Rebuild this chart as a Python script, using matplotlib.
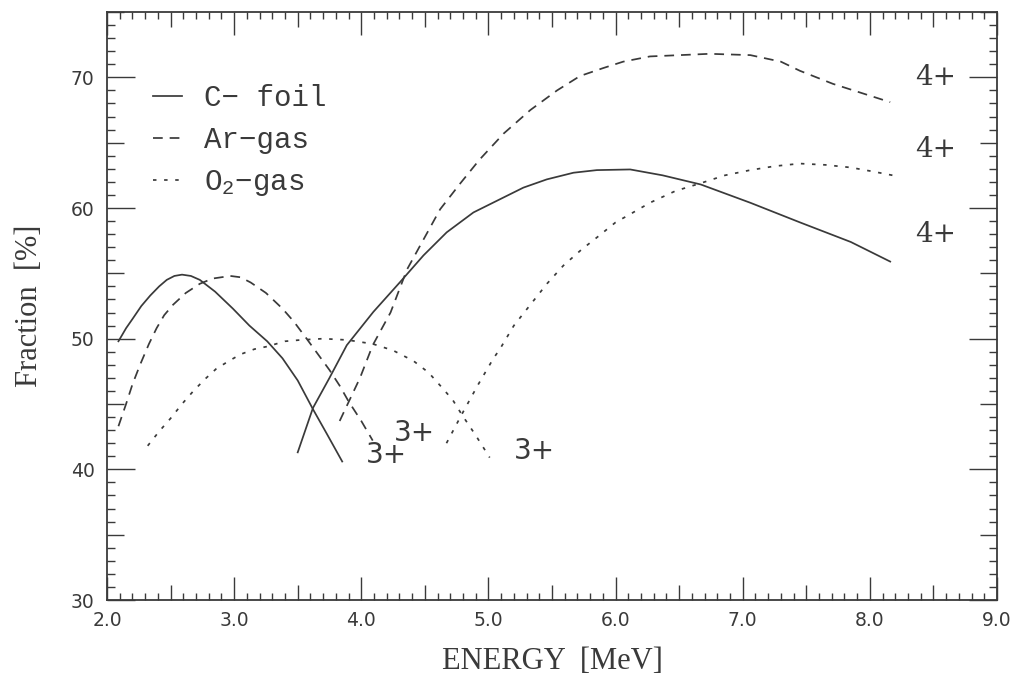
import matplotlib
matplotlib.use("Agg")
import matplotlib.pyplot as plt
from matplotlib.ticker import MultipleLocator

# ---------------- data ----------------
c_foil_3_x = [2.09, 2.15, 2.20, 2.27, 2.34, 2.41, 2.47, 2.53, 2.59, 2.66, 2.73, 2.85,
              2.99, 3.12, 3.26, 3.38, 3.50, 3.62, 3.73, 3.85]
c_foil_3_y = [49.8, 50.8, 51.5, 52.5, 53.3, 54.0, 54.5, 54.8, 54.9, 54.8, 54.5, 53.6,
              52.3, 51.0, 49.8, 48.5, 46.8, 44.6, 42.7, 40.6]

c_foil_4_x = [3.50, 3.62, 3.75, 3.886, 4.095, 4.305, 4.489, 4.672, 4.882, 5.066, 5.275,
              5.459, 5.669, 5.853, 6.115, 6.37, 6.67, 7.06, 7.45, 7.85, 8.16]
c_foil_4_y = [41.3, 44.7, 47.0, 49.5, 52.05, 54.33, 56.37, 58.14, 59.66, 60.55, 61.56,
              62.19, 62.70, 62.90, 62.95, 62.5, 61.8, 60.4, 58.9, 57.4, 55.9]

ar_gas_3_x = [2.09, 2.15, 2.20, 2.26, 2.33, 2.39, 2.45, 2.52, 2.62, 2.73, 2.83, 2.97,
              3.05, 3.13, 3.25, 3.38, 3.47, 3.57, 3.66, 3.75, 3.83, 3.90, 4.00, 4.09]
ar_gas_3_y = [43.3, 45.0, 46.5, 48.0, 49.6, 50.8, 51.8, 52.6, 53.5, 54.2, 54.6, 54.8,
              54.7, 54.3, 53.5, 52.3, 51.3, 50.0, 48.8, 47.6, 46.4, 45.2, 43.7, 42.2]

ar_gas_4_x = [3.83, 3.99, 4.09, 4.23, 4.36, 4.49, 4.62, 4.78, 4.93, 5.12, 5.33, 5.54,
              5.72, 5.90, 6.06, 6.27, 6.74, 7.06, 7.30, 7.45, 7.71, 8.16]
ar_gas_4_y = [43.7, 47.0, 49.5, 52.0, 55.3, 57.6, 59.9, 61.9, 63.7, 65.7, 67.5, 69.0,
              70.1, 70.7, 71.2, 71.6, 71.8, 71.7, 71.2, 70.5, 69.5, 68.1]

o2_gas_3_x = [2.32, 2.41, 2.50, 2.59, 2.68, 2.77, 2.86, 2.96, 3.05, 3.16, 3.26, 3.40,
              3.52, 3.70, 3.89, 4.09, 4.25, 4.41, 4.53, 4.64, 4.72, 4.79, 4.90, 5.01]
o2_gas_3_y = [41.8, 42.9, 43.9, 45.0, 46.0, 46.9, 47.7, 48.3, 48.8, 49.2, 49.4, 49.8,
              49.9, 50.0, 49.9, 49.6, 49.1, 48.3, 47.4, 46.2, 45.3, 44.2, 42.6, 40.9]

o2_gas_4_x = [4.67, 4.79, 4.92, 5.04, 5.09, 5.20, 5.33, 5.46, 5.59, 5.73, 5.86, 6.00,
              6.11, 6.27, 6.47, 6.67, 6.86, 7.06, 7.25, 7.45, 7.65, 7.85, 8.02, 8.18]
o2_gas_4_y = [42.0, 44.2, 46.5, 48.5, 49.2, 51.0, 52.6, 54.2, 55.6, 56.8, 57.8, 58.9,
              59.5, 60.4, 61.3, 61.9, 62.5, 62.9, 63.2, 63.4, 63.3, 63.1, 62.8, 62.5]

legend_labels = ["C\u2212 foil", "Ar\u2212gas", "O$_2$\u2212gas"]

charge_labels_3 = ["3+", "3+", "3+"]
charge_3_x = [4.195, 4.42, 5.36]
charge_3_y = [41.1, 42.8, 41.4]

charge_labels_4 = ["4+", "4+", "4+"]
charge_4_x = [8.52, 8.52, 8.52]
charge_4_y = [70.0, 64.45, 58.0]

x_tick_values = [2, 3, 4, 5, 6, 7, 8, 9]
x_tick_labels = ["2.0", "3.0", "4.0", "5.0", "6.0", "7.0", "8.0", "9.0"]
y_tick_values = [30, 40, 50, 60, 70]
y_tick_labels = ["30", "40", "50", "60", "70"]

# ---------------- style ----------------
plt.rcParams['lines.scale_dashes'] = False
plt.rcParams['mathtext.fontset'] = 'custom'
plt.rcParams['mathtext.rm'] = 'Liberation Mono'
plt.rcParams['mathtext.it'] = 'Liberation Mono'

ink = '#3a3a3a'
lw = 1.25
dash = (0, (7, 5))
dot = (0, (2.5, 5.5))

fig = plt.figure(figsize=(10.14, 6.82), dpi=100)
ax = fig.add_axes([107 / 1014, 82 / 682, 890 / 1014, 588 / 682])

ax.plot(c_foil_3_x, c_foil_3_y, color=ink, lw=lw, ls='-', label=legend_labels[0])
ax.plot(c_foil_4_x, c_foil_4_y, color=ink, lw=lw, ls='-')
ax.plot(ar_gas_3_x, ar_gas_3_y, color=ink, lw=lw, ls=dash, label=legend_labels[1])
ax.plot(ar_gas_4_x, ar_gas_4_y, color=ink, lw=lw, ls=dash)
ax.plot(o2_gas_3_x, o2_gas_3_y, color=ink, lw=lw, ls=dot, label=legend_labels[2])
ax.plot(o2_gas_4_x, o2_gas_4_y, color=ink, lw=lw, ls=dot)

for lab, x, y in zip(charge_labels_3, charge_3_x, charge_3_y):
    ax.text(x, y, lab, ha='center', va='center', fontsize=20,
            family='DejaVu Sans', color=ink)
for lab, x, y in zip(charge_labels_4, charge_4_x, charge_4_y):
    ax.text(x, y, lab, ha='center', va='center', fontsize=20,
            family='DejaVu Serif', color=ink)

ax.set_xlim(2.0, 9.0)
ax.set_ylim(30, 75)

ax.xaxis.set_minor_locator(MultipleLocator(0.1))
ax.yaxis.set_minor_locator(MultipleLocator(1))
ax.set_xticks(x_tick_values)
ax.set_xticklabels(x_tick_labels)
ax.set_yticks(y_tick_values)
ax.set_yticklabels(y_tick_labels)

ax.tick_params(which='both', direction='in', top=True, right=True,
               color=ink, width=1.0, labelcolor=ink)
ax.tick_params(axis='x', which='major', length=16.5, pad=8, labelsize=13.5)
ax.tick_params(axis='y', which='major', length=20, pad=9, labelsize=13.5)
ax.tick_params(axis='x', which='minor', length=5)
ax.tick_params(axis='y', which='minor', length=6)
for lbl in ax.get_xticklabels() + ax.get_yticklabels():
    lbl.set_family('DejaVu Sans')

# medium-length ticks at the half-way marks
xlocs = ax.xaxis.get_minorticklocs()
for loc, t in zip(xlocs, ax.xaxis.get_minor_ticks(len(xlocs))):
    r = round(loc * 2)
    if abs(loc * 2 - r) < 1e-6 and r % 2 == 1:
        t.tick1line.set_markersize(11)
        t.tick2line.set_markersize(11)
ylocs = ax.yaxis.get_minorticklocs()
for loc, t in zip(ylocs, ax.yaxis.get_minor_ticks(len(ylocs))):
    r = round(loc)
    if abs(loc - r) < 1e-6 and r % 10 == 5:
        t.tick1line.set_markersize(12)
        t.tick2line.set_markersize(12)

for sp in ax.spines.values():
    sp.set_color(ink)
    sp.set_linewidth(1.3)

ax.set_xlabel("ENERGY  [MeV]", family='Liberation Serif', fontsize=22,
              color=ink, labelpad=12)
ax.set_ylabel("Fraction  [%]", family='Liberation Serif', fontsize=22,
              color=ink, labelpad=19)

leg = ax.legend(loc='upper left', bbox_to_anchor=(0.052, 0.878), frameon=False,
                prop={'family': 'Liberation Mono', 'size': 21},
                handlelength=1.0, handletextpad=0.75, labelspacing=0.48,
                borderpad=0, borderaxespad=0, labelcolor=ink)

fig.savefig("out.png", dpi=100, facecolor='white')
